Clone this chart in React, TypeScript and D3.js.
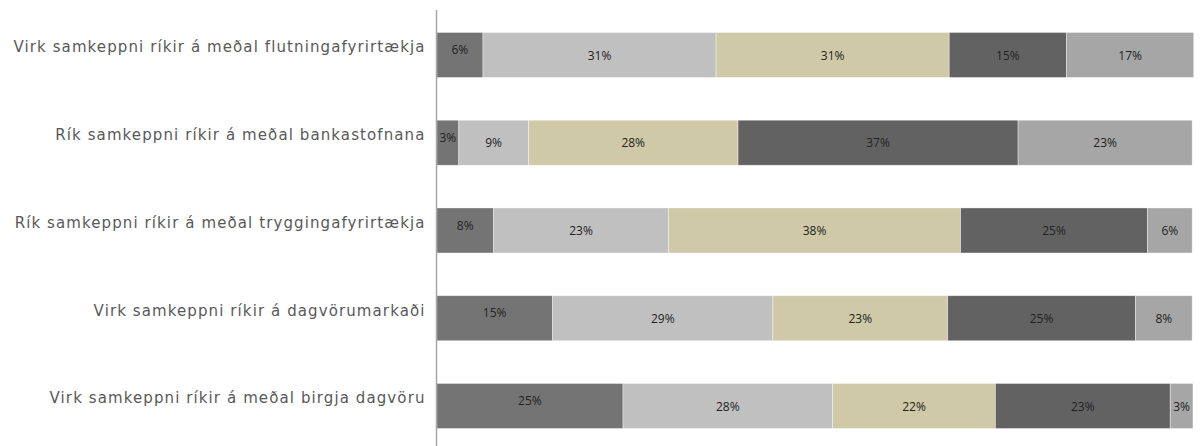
import React from "react";
import * as d3 from "d3";

const categories = [
  "Virk samkeppni ríkir á meðal flutningafyrirtækja",
  "Rík samkeppni ríkir á meðal bankastofnana",
  "Rík samkeppni ríkir á meðal tryggingafyrirtækja",
  "Virk samkeppni ríkir á dagvörumarkaði",
  "Virk samkeppni ríkir á meðal birgja dagvöru",
];
const series1 = [6.1, 2.9, 7.5, 15.3, 24.6];
const series2 = [30.8, 9.2, 23.1, 29.1, 27.7];
const series3 = [30.8, 27.7, 38.6, 23.1, 21.5];
const series4 = [15.5, 37.0, 24.7, 24.8, 23.1];
const series5 = [16.8, 23.0, 5.9, 7.5, 3.0];
const labels1 = ["6%", "3%", "8%", "15%", "25%"];
const labels2 = ["31%", "9%", "23%", "29%", "28%"];
const labels3 = ["31%", "28%", "38%", "23%", "22%"];
const labels4 = ["15%", "37%", "25%", "25%", "23%"];
const labels5 = ["17%", "23%", "6%", "8%", "3%"];

const seriesValues = [series1, series2, series3, series4, series5];
const seriesLabels = [labels1, labels2, labels3, labels4, labels5];
const colors = ["#747474", "#c0c0c0", "#cfc9a8", "#626262", "#a6a6a6"];
const labelDy = [-4, 1.5, 1.5, 1.5, 1.5];

export default function App() {
  const W = 1202, H = 446;
  const x0 = 436.8, x1 = 1193.7;
  const rows = categories.map((c, i) => {
    const r: any = { cat: c };
    seriesValues.forEach((s, k) => (r["s" + k] = s[i]));
    return r;
  });
  const keys = seriesValues.map((_, k) => "s" + k);
  const stacked = d3.stack().keys(keys)(rows);
  const x = d3.scaleLinear().domain([0, 100]).range([x0, x1]);
  const y = d3
    .scaleBand()
    .domain(categories)
    .range([11.1, 11.1 + 87.75 * 5])
    .paddingInner(0.487)
    .paddingOuter(0.2435);
  const bw = y.bandwidth();

  return (
    <svg
      width={W}
      height={H}
      style={{ position: "absolute", left: 0, top: 0, background: "#fff" }}
    >
      {stacked.map((layer, k) => (
        <g key={k}>
          {layer.map((d, i) => {
            const cat = categories[i];
            const xa = x(d[0]);
            const xb = x(d[1]);
            return (
              <g key={i}>
                <rect
                  x={xa}
                  y={y(cat)}
                  width={xb - xa}
                  height={bw}
                  fill={colors[k]}
                  stroke="#ffffff"
                  strokeOpacity={0.5}
                  strokeWidth={0.75}
                />
                <text
                  x={(xa + xb) / 2}
                  y={(y(cat) as number) + bw / 2 + labelDy[k]}
                  textAnchor="middle"
                  dominantBaseline="middle"
                  fontFamily="'Open Sans', sans-serif"
                  fontSize={12}
                  fill="#222"
                >
                  {seriesLabels[k][i]}
                </text>
              </g>
            );
          })}
        </g>
      ))}
      {categories.map((c) => (
        <text
          key={c}
          x={425.5}
          y={(y(c) as number) + bw / 2 - 2.7}
          textAnchor="end"
          fontFamily="'DejaVu Sans', sans-serif"
          fontSize={15}
          letterSpacing={1.1}
          fill="#595959"
        >
          {c}
        </text>
      ))}
      <line x1={436.5} x2={436.5} y1={10} y2={H} stroke="#a6a6a6" strokeWidth={1.5} />
    </svg>
  );
}
